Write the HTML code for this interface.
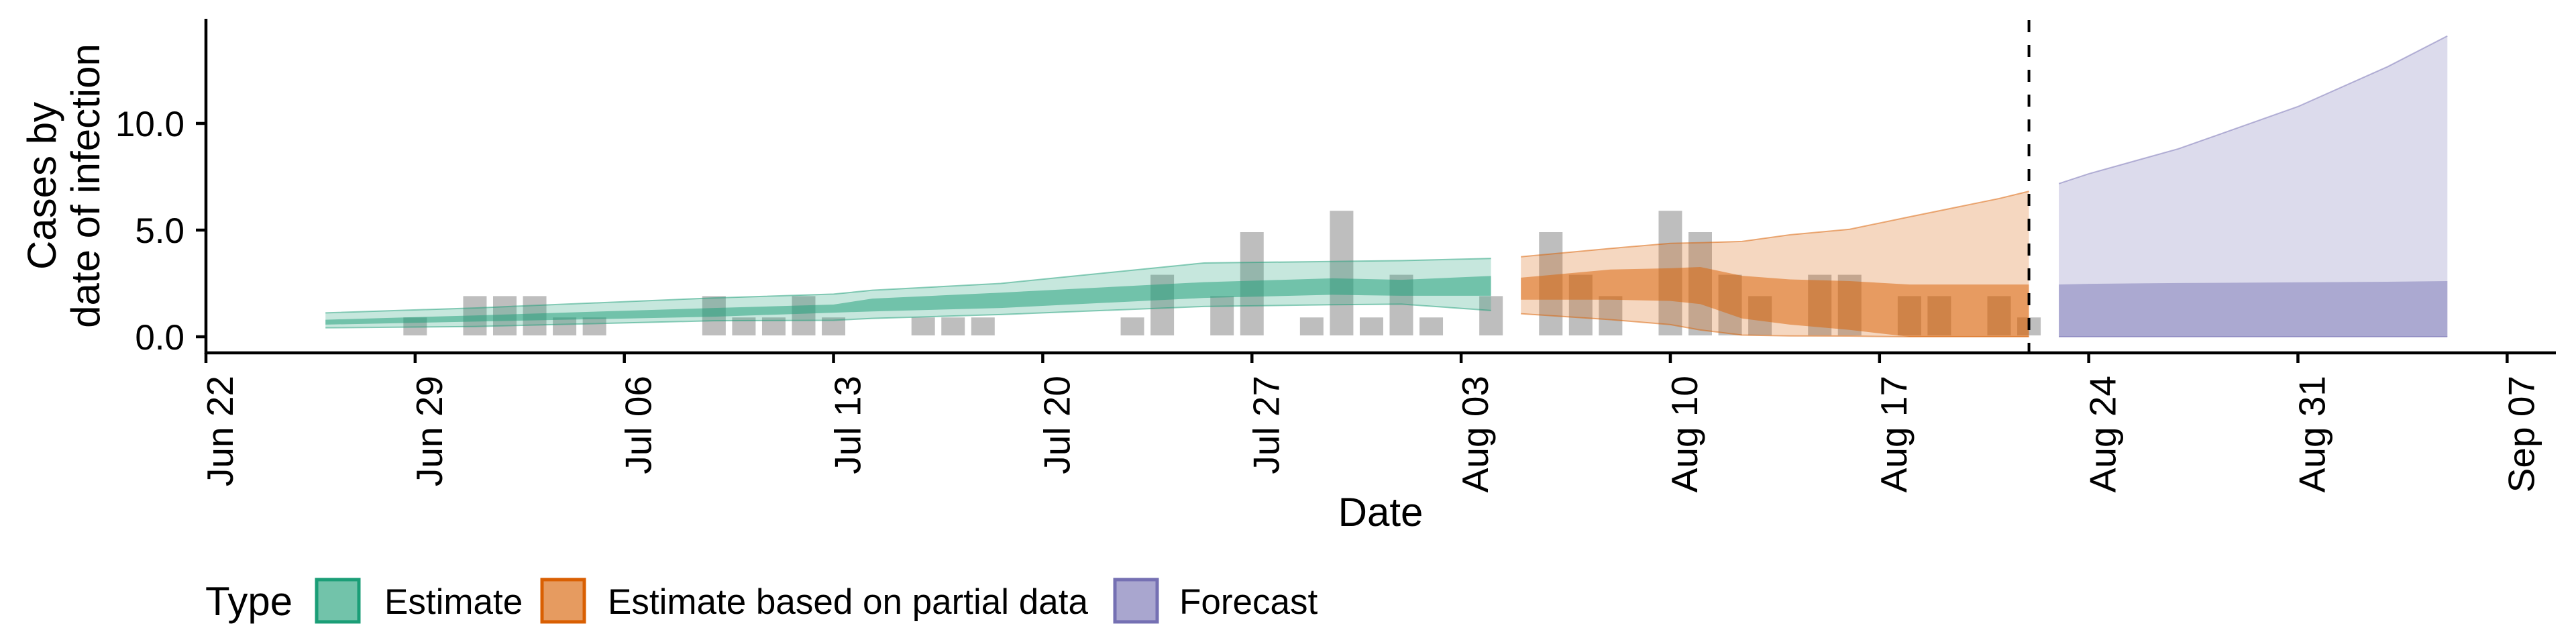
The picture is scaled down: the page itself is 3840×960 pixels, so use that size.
<!DOCTYPE html>
<html><head><meta charset="utf-8">
<style>
html,body{margin:0;padding:0;background:#fff;}
svg{display:block;font-family:"Liberation Sans",sans-serif;}
</style></head>
<body>
<svg id="chart" width="3840" height="960" viewBox="0 0 3840 960" xmlns="http://www.w3.org/2000/svg"></svg>
<script>
// ---- data (day offsets from Jun 22) ----
const barDays   = [7,9,10,11,12,13,17,18,19,20,21,24,25,26,31,32,34,35,37,38,39,40,41,43,45,46,47,49,50,51,52,54,55,57,58,60,61];
const barValues = [1,2,2,2,1,1,2,1,1,2,1,1,1,1,1,3,2,5,1,6,1,3,1,2,5,3,2,6,5,3,2,3,3,2,2,2,1];

const estDays    = [4,9,17,21,22.3,26.6,33.4,37.7,40,43];
const estUpper90 = [1.12,1.35,1.82,2.0,2.18,2.5,3.46,3.53,3.57,3.67];
const estLower90 = [0.42,0.48,0.75,0.77,0.86,1.04,1.42,1.5,1.53,1.23];
const estUpper50 = [0.80,1.0,1.35,1.51,1.79,2.07,2.56,2.74,2.67,2.85];
const estLower50 = [0.57,0.71,0.94,1.13,1.19,1.35,1.82,1.97,1.92,1.92];

const partDays    = [44,47,49,50,51.4,53,55,57,60,61];
const partUpper90 = [3.75,4.14,4.38,4.41,4.47,4.78,5.04,5.62,6.48,6.82];
const partLower90 = [1.08,0.80,0.57,0.32,0.08,0.04,0.03,0,0,0];
const partUpper50 = [2.77,3.15,3.21,3.27,2.86,2.69,2.61,2.45,2.45,2.45];
const partLower50 = [1.74,1.74,1.68,1.53,0.86,0.57,0.32,0,0,0];

const fcDays    = [62,63,66,70,73,75];
const fcUpper90 = [7.18,7.64,8.81,10.79,12.66,14.1];
const fcLower90 = [0,0,0,0,0,0];
const fcUpper50 = [2.45,2.48,2.52,2.55,2.58,2.61];
const fcLower50 = [0,0,0,0,0,0];

const yTicks = [0,5,10];
const yTickLabels = ["0.0","5.0","10.0"];
const xTickDays = [0,7,14,21,28,35,42,49,56,63,70,77];
const xTickLabels = ["Jun 22","Jun 29","Jul 06","Jul 13","Jul 20","Jul 27","Aug 03","Aug 10","Aug 17","Aug 24","Aug 31","Sep 07"];
const forecastStartDay = 61;

// ---- scales ----
const X0 = 307, DX = 44.55, Y0 = 502, DY = 31.8;
function xs(d){ return X0 + d*DX; }
function ys(v){ return Y0 - v*DY; }

const NS = "http://www.w3.org/2000/svg";
const svg = document.getElementById('chart');
function mk(tag, attrs, parent){
  const e = document.createElementNS(NS, tag);
  for (const k in attrs) e.setAttribute(k, attrs[k]);
  (parent||svg).appendChild(e);
  return e;
}

// bars
const gBars = mk('g', {});


barDays.forEach((d,i)=>{
  const top = ys(barValues[i]) + 3;
  const r = mk('rect', {x: xs(d)-17.5, y: top, width: 35, height: 500-top, fill:'#bebebe'}, gBars);
  
  
});

function ribbon(days, up, lo, color, op, name, edge){
  let pts = days.map((d,i)=>xs(d).toFixed(1)+','+ys(up[i]).toFixed(1));
  for (let i=days.length-1;i>=0;i--) pts.push(xs(days[i]).toFixed(1)+','+ys(lo[i]).toFixed(1));
  const p = mk('polygon', {points: pts.join(' '), fill: color, 'fill-opacity': op});
  
  
  if (edge){
    const l1 = mk('polyline', {points: days.map((d,i)=>xs(d)+','+ys(up[i])).join(' '), fill:'none', stroke: color, 'stroke-opacity':0.5, 'stroke-width':2});
    
    
    const l2 = mk('polyline', {points: days.map((d,i)=>xs(d)+','+ys(lo[i])).join(' '), fill:'none', stroke: color, 'stroke-opacity':0.5, 'stroke-width':2});
    
    
  }
}
ribbon(estDays, estUpper90, estLower90, '#1b9e77', 0.25, 'estimate-90-ribbon', true);
ribbon(estDays, estUpper50, estLower50, '#1b9e77', 0.5, 'estimate-50-ribbon', false);
ribbon(partDays, partUpper90, partLower90, '#d95f02', 0.25, 'partial-90-ribbon', true);
ribbon(partDays, partUpper50, partLower50, '#d95f02', 0.5, 'partial-50-ribbon', false);
ribbon(fcDays, fcUpper90, fcLower90, '#7570b3', 0.25, 'forecast-90-ribbon', true);
ribbon(fcDays, fcUpper50, fcLower50, '#7570b3', 0.47, 'forecast-50-ribbon', false);

// dashed forecast line
const dl = mk('line', {x1: xs(forecastStartDay), x2: xs(forecastStartDay), y1: 30, y2: 524, stroke:'#000', 'stroke-width':4, 'stroke-dasharray':'18 19'});



// axes
const ya = mk('line', {x1:307, x2:307, y1:28, y2:528, stroke:'#000', 'stroke-width':4.5});


const xa = mk('line', {x1:305, x2:3810, y1:526, y2:526, stroke:'#000', 'stroke-width':4.5});



yTicks.forEach((v,i)=>{
  const t = mk('line', {x1:292, x2:307, y1:ys(v), y2:ys(v), stroke:'#000', 'stroke-width':4.5});
  
  
  const lb = mk('text', {x:275, y:ys(v)+19, 'text-anchor':'end', 'font-size':53, fill:'#000'});
  lb.textContent = yTickLabels[i];
  
  
});
xTickDays.forEach((d,i)=>{
  const x = xs(d);
  const t = mk('line', {x1:x, x2:x, y1:526, y2:541, stroke:'#000', 'stroke-width':4.5});
  
  
  const lb = mk('text', {x:0, y:0, 'text-anchor':'end', 'font-size':55, fill:'#000', transform:'translate('+(x+40)+',560) rotate(-90)'});
  lb.textContent = xTickLabels[i];
  
  
});

// axis titles
const xt = mk('text', {x:2058, y:784, 'text-anchor':'middle', 'font-size':60, fill:'#000'});
xt.textContent = 'Date';


const yt1 = mk('text', {x:0, y:0, 'text-anchor':'middle', 'font-size':60, fill:'#000', transform:'translate(83,277) rotate(-90)'});
yt1.textContent = 'Cases by';


const yt2 = mk('text', {x:0, y:0, 'text-anchor':'middle', 'font-size':60, fill:'#000', transform:'translate(148,277) rotate(-90)'});
yt2.textContent = 'date of infection';



// legend
const lg = mk('g', {});


const ltitle = mk('text', {x:306, y:917, 'font-size':60, fill:'#000'}, lg);
ltitle.textContent = 'Type';


const legItems = [
  {x:472, fill:'#72c3aa', stroke:'#1b9e77', label:'Estimate', tx:573, name:'legend-entry-estimate'},
  {x:808, fill:'#e69b60', stroke:'#d95f02', label:'Estimate based on partial data', tx:906, name:'legend-entry-partial'},
  {x:1662, fill:'#a9a6cf', stroke:'#7570b3', label:'Forecast', tx:1758, name:'legend-entry-forecast'}
];
legItems.forEach(it=>{
  const g = mk('g', {}, lg);
  
  
  const r = mk('rect', {x:it.x, y:864, width:63, height:63, fill:it.fill, stroke:it.stroke, 'stroke-width':5}, g);
  
  
  const t = mk('text', {x:it.tx, y:915, 'font-size':53, fill:'#000'}, g);
  t.textContent = it.label;
  
  
});
</script>
</body></html>
